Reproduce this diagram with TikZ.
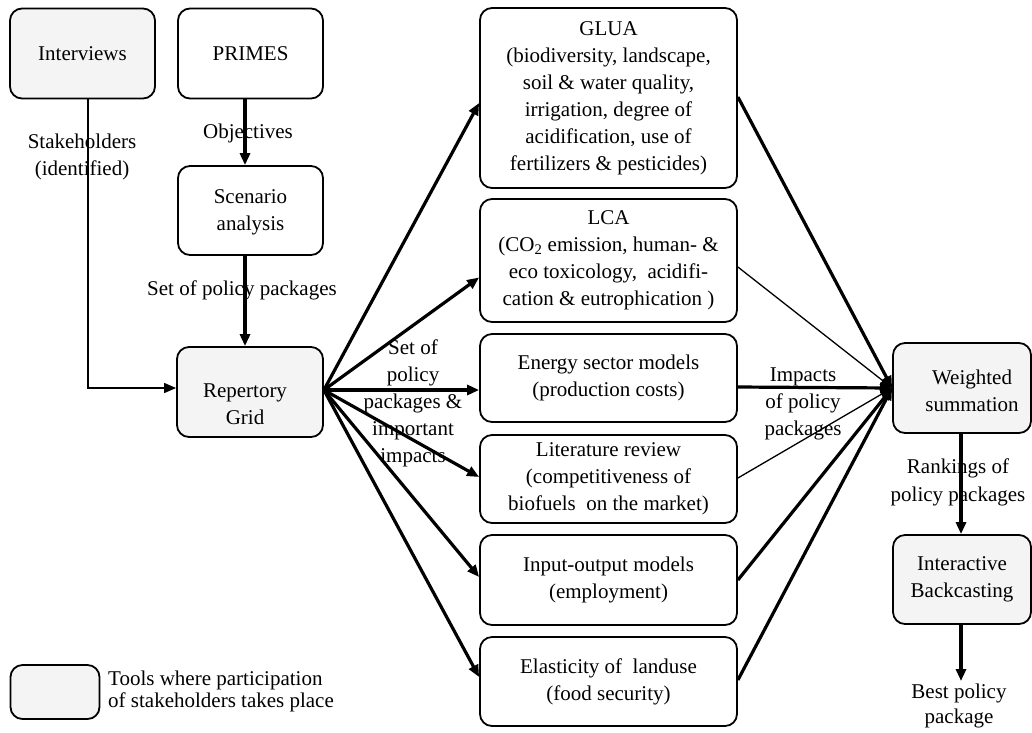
\documentclass[tikz,border=0pt]{standalone}
\usepackage{fontspec}
\setmainfont{Liberation Serif}
\usetikzlibrary{arrows.meta}
\begin{document}
\begin{tikzpicture}[x=1pt,y=-1pt,
  txt/.style={font=\fontsize{21}{27}\selectfont, align=center, text=black},
  box/.style={txt, draw=black, line width=1.8pt, rounded corners=12pt, fill=white, inner sep=0pt},
  gbox/.style={box, fill=gray!9},
  lbl/.style={txt, inner sep=0pt},
  tip/.style={-{Triangle[length=12pt,width=10pt]}},
  thickline/.style={line width=3.2pt, tip},
  thinline/.style={line width=1.3pt, tip}
]
\useasboundingbox (0,0) rectangle (1032,732);
\fill[white] (0,0) rectangle (1032,732);

% left column
\node[gbox, minimum width=145pt, minimum height=90pt] (int) at (82.5,53.5) {Interviews};
\node[box, minimum width=145pt, minimum height=90pt] (primes) at (250.5,53.5) {PRIMES};
\node[box, minimum width=145pt, minimum height=89pt,
      label={[lbl, yshift=-2pt]center:{Scenario\\analysis}}] (scen) at (250.5,210.5) {};
\node[gbox, minimum width=146pt, minimum height=90pt,
      label={[lbl, yshift=-12pt, xshift=-5pt]center:{Repertory\\Grid}}] (rep) at (250,392) {};

% middle column
\node[box, minimum width=257pt, minimum height=180pt] (glua) at (608.5,98)
  {GLUA\\(biodiversity, landscape,\\soil \& water quality,\\irrigation, degree of\\acidification, use of\\fertilizers \& pesticides)};
\node[box, minimum width=257pt, minimum height=123pt] (lca) at (608.5,260.5)
  {LCA\\(CO\textsubscript{2} emission, human- \&\\eco toxicology,\ \ acidifi-\\cation \& eutrophication )};
\node[box, minimum width=257pt, minimum height=88pt] (energy) at (608.5,378)
  {Energy sector models\\(production costs)};
\node[box, minimum width=257pt, minimum height=88pt] (lit) at (608.5,479)
  {Literature review\\(competitiveness of\\biofuels\ \ on the market)};
\node[box, minimum width=257pt, minimum height=90pt] (io) at (608.5,580)
  {Input-output models\\(employment)};
\node[box, minimum width=257pt, minimum height=89pt] (elas) at (608.5,681.5)
  {Elasticity of\ \ landuse\\(food security)};

% right column
\node[gbox, minimum width=138pt, minimum height=90pt,
      label={[lbl, xshift=10pt, yshift=-3pt]center:{Weighted\\summation}}] (ws) at (962,388) {};
\node[gbox, minimum width=138pt, minimum height=89pt] (ib) at (962,579.5)
  {Interactive\\Backcasting};
\coordinate (best) at (961,681);

% legend
\node[gbox, minimum width=89pt, minimum height=54pt] (leg) at (55,692) {};
\node[lbl, font=\fontsize{21}{22}\selectfont, align=left, anchor=west] (legtxt) at (108,691)
  {Tools where participation\\of stakeholders takes place};

% labels
\node[lbl] (lobj) at (248,133) {Objectives};
\node[lbl] (lstake) at (82,156.5) {Stakeholders\\(identified)};
\node[lbl] (lset) at (242,290) {Set of policy packages};
\node[lbl] (lset2) at (413,403.5) {Set of\\policy\\packages \&\\important\\impacts};
\node[lbl] (limp) at (803,404) {Impacts\\of policy\\packages};
\node[lbl, font=\fontsize{21}{28}\selectfont] (lrank) at (958,482.5) {Rankings of\\policy packages};
\node[lbl, font=\fontsize{21}{25}\selectfont] (lbest) at (959,705.5) {Best policy\\package};

% connectors left
\draw[thinline] ([xshift=5.5pt]int.south) |- ([yshift=4pt]rep.west);
\draw[thickline] ([xshift=-5.5pt]primes.south) -- ([xshift=-5.5pt]scen.north);
\draw[thickline] ([xshift=-5.5pt]scen.south) -- ([xshift=-5pt]rep.north);

% fan out from repertory grid
\coordinate (rp) at ([yshift=2pt]rep.east);
\draw[thickline] (rp) -- ([yshift=-5pt]glua.west);
\draw[thickline] (rp) -- ([yshift=-17pt]lca.west);
\draw[thickline] (rp) -- ([yshift=-12pt]energy.west);
\draw[thickline] (rp) -- ([yshift=2pt]lit.west);
\draw[thickline] (rp) -- ([yshift=3pt]io.west);
\draw[thickline] (rp) -- ([yshift=4.5pt]elas.west);

% fan in to weighted summation
\draw[thickline] ([yshift=1pt]glua.east) -- (ws.west);
\draw[thinline] ([yshift=-6.5pt]lca.east) -- (ws.west);
\draw[thickline] ([yshift=-9pt]energy.east) -- (ws.west);
\draw[thinline] ([yshift=1pt]lit.east) -- (ws.west);
\draw[thickline] (io.east) -- (ws.west);
\draw[thickline] ([yshift=1.5pt]elas.east) -- (ws.west);

% right column
\draw[thickline] ([xshift=-1pt]ws.south) -- ([xshift=-1pt]ib.north);
\draw[thickline] ([xshift=-1pt]ib.south) -- (best);
\end{tikzpicture}
\end{document}
